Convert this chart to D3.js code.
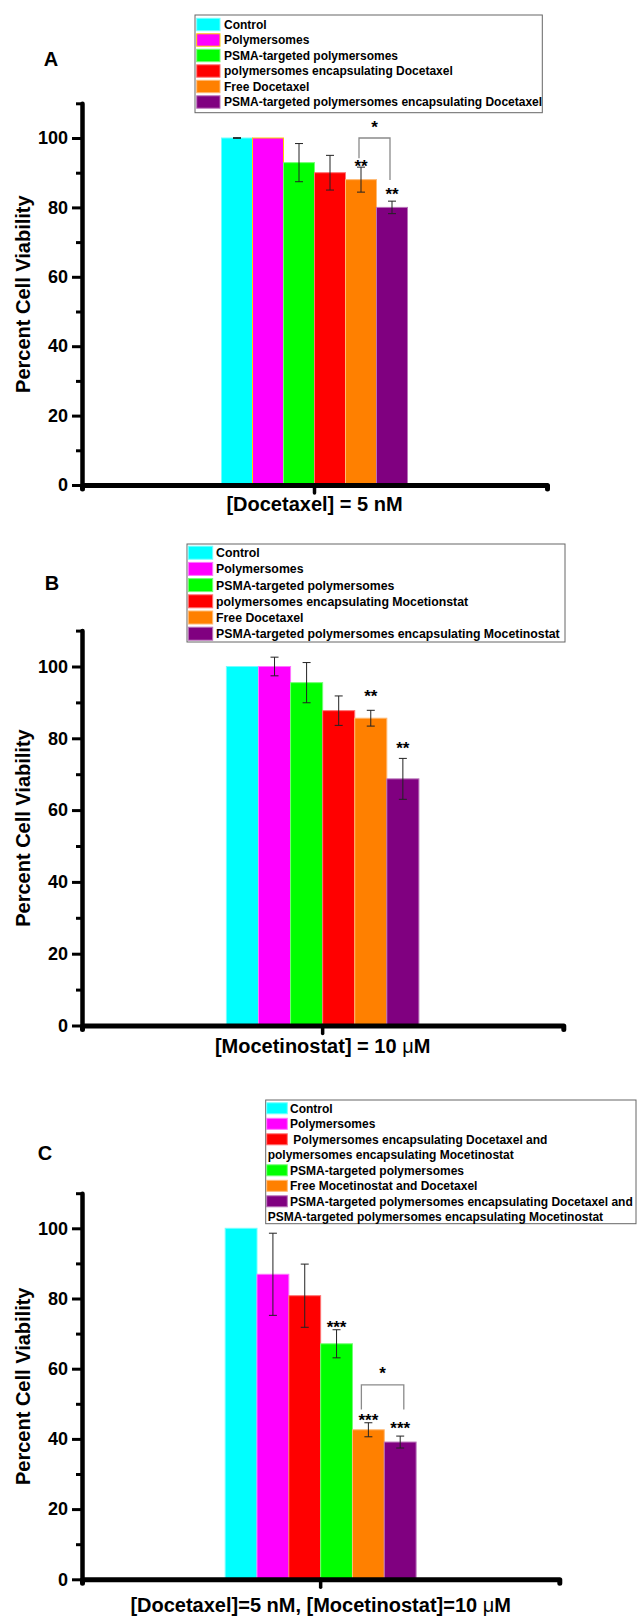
<!DOCTYPE html>
<html>
<head>
<meta charset="utf-8">
<script src="https://cdn.jsdelivr.net/npm/d3@7"></script>
<style>
body { margin: 0; background: #fff; }
text { font-family: Arial, "Liberation Sans", Helvetica, sans-serif; }
</style>
</head>
<body>
<div id="chart"></div>
<script>
// values (percent cell viability, mean and error)
var yTicksMajor = [0, 20, 40, 60, 80, 100];
var yTicksMinor = [10, 30, 50, 70, 90, 110];
var yTitle = "Percent Cell Viability";

// panel A
var seriesA = ["Control", "Polymersomes", "PSMA-targeted polymersomes",
    "polymersomes encapsulating Docetaxel", "Free Docetaxel",
    "PSMA-targeted polymersomes encapsulating Docetaxel"];
var valuesA = [100, 100, 92.9, 90.0, 88.0, 80.0];
var errorsA = [0.1, 0, 5.5, 5.0, 3.6, 1.8];
var colorsA = ["#00FFFF", "#FF00FF", "#00FF00", "#FF0000", "#FF8000", "#800080"];
var starsA = [{bar: 4, text: "**", at: 93.0}, {bar: 5, text: "**", at: 85.0}];
var bracketA = {from: 4, to: 5, top: 100, fromEnd: 94.2, toEnd: 87.9, text: "*", textAt: 104.2};
var xTitleA = "[Docetaxel] = 5 nM";

// panel B
var seriesB = ["Control", "Polymersomes", "PSMA-targeted polymersomes",
    "polymersomes encapsulating Mocetionstat", "Free Docetaxel",
    "PSMA-targeted polymersomes encapsulating Mocetinostat"];
var valuesB = [100, 100, 95.5, 87.7, 85.6, 68.7];
var errorsB = [0, 2.6, 5.6, 4.1, 2.2, 5.7];
var colorsB = ["#00FFFF", "#FF00FF", "#00FF00", "#FF0000", "#FF8000", "#800080"];
var starsB = [{bar: 4, text: "**", at: 92.8}, {bar: 5, text: "**", at: 78.3}];
var xTitleB = "[Mocetinostat] = 10 μM";

// panel C (legend entries that wrap onto a second line)
var seriesC = [["Control"], ["Polymersomes"],
    [" Polymersomes encapsulating Docetaxel and", "polymersomes encapsulating Mocetinostat"],
    ["PSMA-targeted polymersomes"], ["Free Mocetinostat and Docetaxel"],
    ["PSMA-targeted polymersomes encapsulating Docetaxel and", "PSMA-targeted polymersomes encapsulating Mocetinostat"]];
var valuesC = [100, 86.9, 80.8, 67.1, 42.6, 39.1];
var errorsC = [0, 11.7, 9.0, 4.0, 2.0, 1.7];
var colorsC = ["#00FFFF", "#FF00FF", "#FF0000", "#00FF00", "#FF8000", "#800080"];
var starsC = [{bar: 3, text: "***", at: 72.8}, {bar: 4, text: "***", at: 46.4}, {bar: 5, text: "***", at: 44.1}];
var bracketC = {from: 4, to: 5, top: 55.4, fromEnd: 48.4, toEnd: 48.4, text: "*", textAt: 59.8};
var xTitleC = "[Docetaxel]=5 nM, [Mocetinostat]=10 μM";

var width = 637, height = 1617;

var svg = d3.select("#chart").append("svg")
    .attr("width", width)
    .attr("height", height);
svg.append("rect").attr("width", width).attr("height", height).attr("fill", "#fff");

// layout of each panel in page pixels
var panels = [
    {letter: "A", lx: 51, ly: 59, series: seriesA.map(function(s){ return [s]; }), values: valuesA, errors: errorsA,
     colors: colorsA, stars: starsA, bracket: bracketA, bracketDx: [-2, -2], xTitle: xTitleA,
     axisX: 82, axisEnd: 547, y0: 485, y110: 103.3, titleGap: 26,
     legend: {x: 195, y: 15, w: 347.3, h: 97.7, row0: 24.5, step: 15.5, sx: 196.7, sw: 23.3, sh: 12.4, tx: 224, fs: 12}},
    {letter: "B", lx: 52, ly: 583, series: seriesB.map(function(s){ return [s]; }), values: valuesB, errors: errorsB,
     colors: colorsB, stars: starsB, bracket: null, xTitle: xTitleB,
     axisX: 82, axisEnd: 563.3, y0: 1025.5, y110: 630.6, titleGap: 27,
     legend: {x: 187, y: 544, w: 378, h: 98, row0: 552.7, step: 16.2, sx: 188.3, sw: 24.4, sh: 13, tx: 216, fs: 12.3}},
    {letter: "C", lx: 45, ly: 1153, series: seriesC, values: valuesC, errors: errorsC,
     colors: colorsC, stars: starsC, bracket: bracketC, bracketDx: [-7, 3.6], xTitle: xTitleC,
     axisX: 82, axisEnd: 559.3, y0: 1579.3, y110: 1193.2, titleGap: 33,
     legend: {x: 265.7, y: 1100, w: 370.3, h: 123.7, row0: 1108.3, step: 15.5, sx: 266.7, sw: 20.6, sh: 11, tx: 290, wx: 267.7, fs: 12}}
];

function barStroke(p, i) {
    // panel A draws the Polymersomes bar with a yellow outline
    if (p.letter === "A" && i === 1) return "#FFCC00";
    return d3.interpolateRgb(p.colors[i], "#fff")(0.45);
}

panels.forEach(function(p) {
    var g = svg.append("g");

    var y = d3.scaleLinear().domain([0, 110]).range([p.y0, p.y110]);
    var x = d3.scaleBand().domain(["group"]).range([p.axisX, p.axisEnd]);
    var cx = x("group") + x.bandwidth() / 2;
    var groupW = (p.axisEnd - p.axisX) * 0.4;
    var xs = d3.scaleBand().domain(d3.range(p.values.length)).range([cx - groupW / 2, cx + groupW / 2]);
    var bw = xs.bandwidth();

    // bars
    g.selectAll("rect.bar")
        .data(p.values)
        .join("rect")
        .attr("class", "bar")
        .attr("x", function(d, i){ return xs(i); })
        .attr("width", bw)
        .attr("y", function(d){ return y(d); })
        .attr("height", function(d){ return y(0) - y(d); })
        .attr("fill", function(d, i){ return p.colors[i]; })
        .attr("stroke", function(d, i){ return barStroke(p, i); })
        .attr("stroke-width", 1);

    // error bars
    var eb = g.selectAll("g.err")
        .data(p.values.map(function(v, i){ return {v: v, e: p.errors[i], i: i}; })
            .filter(function(d){ return d.e > 0; }))
        .join("g")
        .attr("class", "err")
        .attr("stroke", "#222")
        .attr("stroke-width", 1);
    eb.append("line")
        .attr("x1", function(d){ return xs(d.i) + bw / 2; })
        .attr("x2", function(d){ return xs(d.i) + bw / 2; })
        .attr("y1", function(d){ return y(d.v - d.e); })
        .attr("y2", function(d){ return y(d.v + d.e); });
    [-1, 1].forEach(function(s) {
        eb.append("line")
            .attr("x1", function(d){ return xs(d.i) + bw / 2 - 4; })
            .attr("x2", function(d){ return xs(d.i) + bw / 2 + 4; })
            .attr("y1", function(d){ return y(d.v + s * d.e); })
            .attr("y2", function(d){ return y(d.v + s * d.e); });
    });

    // significance stars
    var starSize = 17;
    g.selectAll("text.star")
        .data(p.stars)
        .join("text")
        .attr("class", "star")
        .attr("x", function(d){ return xs(d.bar) + bw / 2; })
        .attr("y", function(d){ return y(d.at) + starSize * 0.56; })
        .attr("text-anchor", "middle")
        .attr("font-size", starSize)
        .attr("font-weight", "bold")
        .text(function(d){ return d.text; });

    if (p.bracket) {
        var b = p.bracket;
        var xl = xs(b.from) + bw / 2 + p.bracketDx[0];
        var xr = xs(b.to) + bw / 2 + p.bracketDx[1];
        g.append("path")
            .attr("d", "M" + xl + "," + y(b.fromEnd) + "V" + y(b.top) + "H" + xr + "V" + y(b.toEnd))
            .attr("fill", "none")
            .attr("stroke", "#8a8a8a")
            .attr("stroke-width", 1.3);
        g.append("text")
            .attr("x", (xl + xr) / 2)
            .attr("y", y(b.textAt) + starSize * 0.56)
            .attr("text-anchor", "middle")
            .attr("font-size", starSize)
            .attr("font-weight", "bold")
            .text(b.text);
    }

    // y axis: minor ticks, then major ticks with labels
    var yMinor = g.append("g")
        .attr("transform", "translate(" + p.axisX + ",0)")
        .call(d3.axisLeft(y).tickValues(yTicksMinor).tickSize(6).tickSizeOuter(0).tickFormat(""));
    yMinor.select(".domain").remove();
    yMinor.selectAll(".tick line").attr("stroke", "#000").attr("stroke-width", 3);

    var yAx = g.append("g")
        .attr("transform", "translate(" + p.axisX + ",0)")
        .call(d3.axisLeft(y).tickValues(yTicksMajor).tickSize(10).tickSizeOuter(0).tickPadding(4));
    yAx.select(".domain").attr("stroke", "#000").attr("stroke-width", 4.5).attr("stroke-linecap", "round");
    yAx.selectAll(".tick line").attr("stroke", "#000").attr("stroke-width", 3);
    yAx.selectAll(".tick text")
        .attr("fill", "#000")
        .attr("font-size", 18)
        .attr("font-weight", "bold")
        .attr("font-family", "Arial, 'Liberation Sans', Helvetica, sans-serif");

    // x axis, a single category
    var xAx = g.append("g")
        .attr("transform", "translate(0," + p.y0 + ")")
        .call(d3.axisBottom(x).tickSize(8).tickSizeOuter(4).tickFormat(""));
    xAx.select(".domain").attr("stroke", "#000").attr("stroke-width", 5)
        .attr("stroke-linecap", "round").attr("stroke-linejoin", "round");
    xAx.selectAll(".tick line").attr("stroke", "#000").attr("stroke-width", 3.5).attr("stroke-linecap", "round");

    // axis titles
    var parts = p.xTitle.split("μ");
    var xt = g.append("text")
        .attr("x", (p.axisX + p.axisEnd) / 2)
        .attr("y", p.y0 + p.titleGap)
        .attr("text-anchor", "middle")
        .attr("font-size", 20)
        .attr("font-weight", "bold");
    xt.append("tspan").text(parts[0]);
    if (parts.length > 1) {
        xt.append("tspan").attr("font-weight", "normal").text("μ");
        xt.append("tspan").text(parts[1]);
    }

    g.append("text")
        .attr("transform", "translate(30," + ((p.y0 + p.y110) / 2) + ") rotate(-90)")
        .attr("text-anchor", "middle")
        .attr("font-size", 20)
        .attr("font-weight", "bold")
        .text(yTitle);

    g.append("text")
        .attr("x", p.lx)
        .attr("y", p.ly + 7.2)
        .attr("text-anchor", "middle")
        .attr("font-size", 20)
        .attr("font-weight", "bold")
        .text(p.letter);

    // legend
    var L = p.legend;
    var lg = g.append("g");
    lg.append("rect")
        .attr("x", L.x).attr("y", L.y).attr("width", L.w).attr("height", L.h)
        .attr("fill", "#fff").attr("stroke", "#666").attr("stroke-width", 1);
    var row = 0;
    p.series.forEach(function(lines, i) {
        var cy = L.row0 + row * L.step;
        lg.append("rect")
            .attr("x", L.sx).attr("y", cy - L.sh / 2)
            .attr("width", L.sw).attr("height", L.sh)
            .attr("fill", p.colors[i])
            .attr("stroke", barStroke(p, i))
            .attr("stroke-width", 1);
        lines.forEach(function(line, k) {
            var ly = L.row0 + (row + k) * L.step;
            lg.append("text")
                .attr("x", k === 0 ? L.tx : L.wx)
                .attr("y", ly + L.fs * 0.36)
                .attr("font-size", L.fs)
                .attr("font-weight", "bold")
                .style("white-space", "pre")
                .text(line);
        });
        row += lines.length;
    });
});
</script>
</body>
</html>
